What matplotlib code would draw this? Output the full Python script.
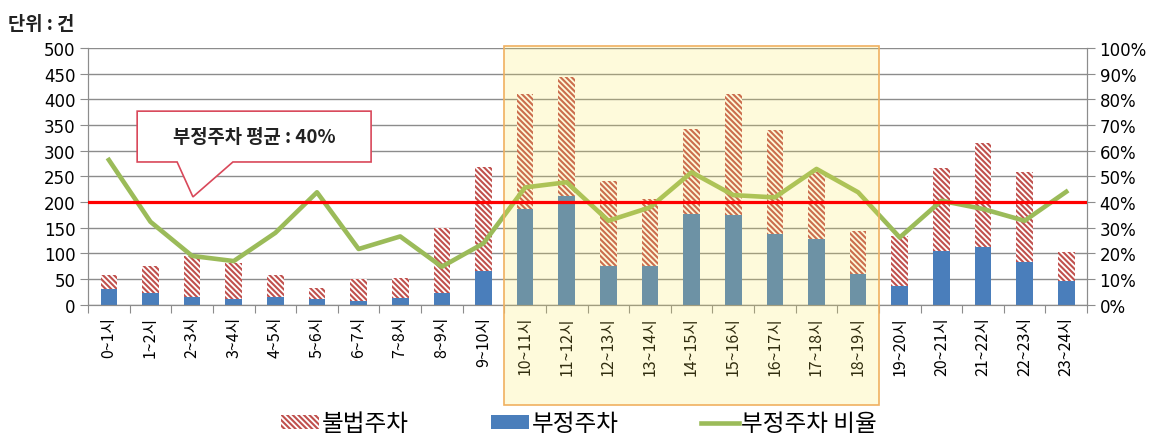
import matplotlib
matplotlib.use('Agg')
import matplotlib.pyplot as plt
from matplotlib.patches import Rectangle, Polygon, Patch
from matplotlib.lines import Line2D
import matplotlib.transforms as mtransforms

plt.rcParams['font.family'] = ['Noto Sans CJK KR', 'DejaVu Sans']
plt.rcParams['hatch.linewidth'] = 1.5

# data
hours = ['%d~%d시' % (h, h + 1) for h in range(24)]
total = [58, 76, 94, 82, 58, 33, 50, 53, 149, 269, 410, 443, 241, 206,
         342, 410, 340, 258, 143, 134, 266, 315, 259, 103]
fake = [31, 22, 16, 11, 16, 11, 8, 13, 22, 65, 186, 212, 76, 76,
        177, 175, 137, 128, 60, 37, 105, 112, 84, 47]
ratio = [0.564, 0.323, 0.19, 0.17, 0.28, 0.438, 0.217, 0.266, 0.148, 0.239,
         0.457, 0.477, 0.327, 0.379, 0.516, 0.427, 0.418, 0.529, 0.438, 0.262,
         0.405, 0.373, 0.327, 0.44]
illegal = [t - f for t, f in zip(total, fake)]
avg_ratio = 0.40
peak_first, peak_last = 10, 18

hatch_col = '#c0504d'
blue = '#4a7ebb'
green = '#9bbb59'
num_font = ['DejaVu Sans']
stripes = '\\' * 6

fig = plt.figure(figsize=(11.63, 4.39), dpi=100)
ax = fig.add_axes([0.0757, 0.3036, 0.8590, 0.5848])
x = list(range(len(hours)))

ax.bar(x, fake, width=0.4, color=blue, zorder=2)
ax.bar(x, illegal, bottom=fake, width=0.4, color='white', edgecolor=hatch_col,
       linewidth=0, hatch=stripes, zorder=2)

ax.set_xlim(-0.5, 23.5)
ax.set_ylim(0, 500)
ax.set_yticks(range(0, 501, 50))
ax.set_yticklabels([str(v) for v in range(0, 501, 50)], family=num_font, fontsize=12)
ax.grid(axis='y', color='#8c8c8c', linewidth=1, zorder=0)
ax.set_axisbelow(True)
ax.set_xticks([i - 0.5 for i in range(25)])
ax.set_xticklabels([])
ax.set_xticks(x, minor=True)
ax.set_xticklabels(hours, minor=True, rotation=90, fontsize=11.5)
ax.tick_params(axis='x', which='major', length=6, color='#8c8c8c')
ax.tick_params(axis='x', which='minor', length=0, pad=8)
ax.tick_params(axis='y', length=6, color='#8c8c8c', pad=3)
ax.spines['top'].set_visible(False)
for s in ['left', 'right', 'bottom']:
    ax.spines[s].set_color('#8c8c8c')

ax2 = ax.twinx()
ax2.set_ylim(0, 1)
ax2.set_yticks([i / 10 for i in range(11)])
ax2.set_yticklabels(['%d%%' % (i * 10) for i in range(11)], family=num_font, fontsize=12)
ax2.tick_params(axis='y', length=6, color='#8c8c8c', pad=3)
ax2.spines['top'].set_visible(False)
for s in ['left', 'right', 'bottom']:
    ax2.spines[s].set_color('#8c8c8c')

ax2.plot(x, ratio, color=green, linewidth=3.3, zorder=3)

# highlighted hours
trans = mtransforms.blended_transform_factory(ax2.transData, ax2.transAxes)
ax2.add_patch(Rectangle((peak_first - 0.5, -0.39), peak_last - peak_first + 1, 1.397,
                        transform=trans, facecolor=(0.98, 0.9, 0.3, 0.2),
                        edgecolor='#f0b060', linewidth=1.2, clip_on=False, zorder=4))

ax2.axhline(avg_ratio, color='#ff0000', linewidth=2.3, zorder=5)

# callout
callout = [(0.68, 0.754), (6.3, 0.754), (6.3, 0.556), (2.98, 0.556),
           (2.02, 0.42), (1.64, 0.556), (0.68, 0.556)]
ax2.add_patch(Polygon(callout, closed=True, facecolor='white', edgecolor='#d9485a',
                      linewidth=1.2, zorder=6))
ax2.text(3.49, 0.655, '부정주차 평균 : 40%', ha='center', va='center',
         fontsize=13.5, fontweight='bold', color='#222222', zorder=7)

fig.text(0.007, 0.945, '단위 : 건', fontsize=13.5, fontweight='bold', color='#222222',
         va='center')

handles = [Patch(facecolor='white', edgecolor=hatch_col, linewidth=0, hatch=stripes),
           Patch(facecolor=blue),
           Line2D([0], [0], color=green, linewidth=3.3)]
fig.legend(handles, ['불법주차', '부정주차', '부정주차 비율'], loc='center',
           bbox_to_anchor=(0.498, 0.032), ncol=3, frameon=False, fontsize=17,
           handlelength=1.6, handleheight=0.55, columnspacing=3.5, handletextpad=0.1)

fig.savefig('out.png', dpi=100)
